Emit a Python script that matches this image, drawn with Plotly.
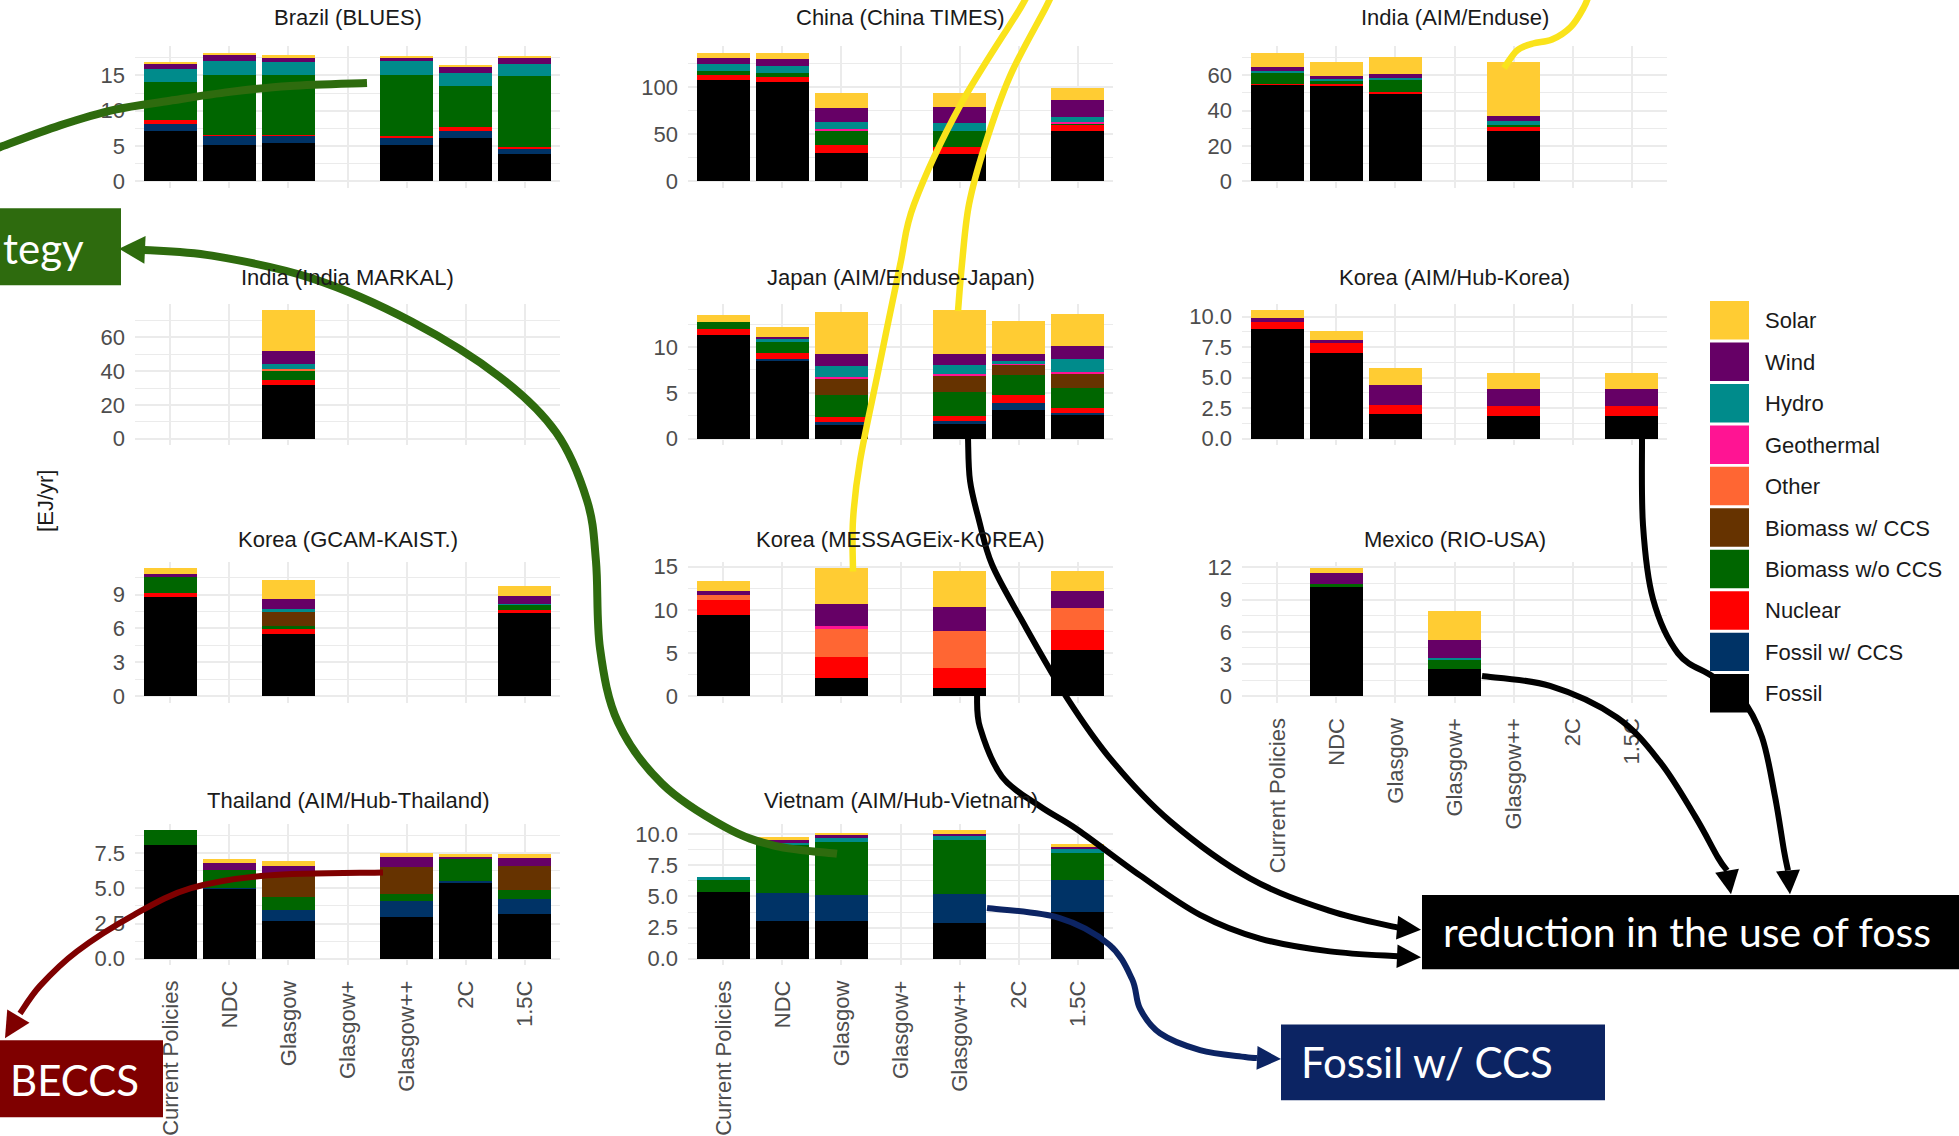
import plotly.graph_objects as go

W, H = 1959, 1136

SCENARIOS = ["Current Policies", "NDC", "Glasgow", "Glasgow+", "Glasgow++", "2C", "1.5C"]

# stacking order, bottom to top
SOURCES = ["Fossil", "Fossil w/ CCS", "Nuclear", "Biomass w/o CCS", "Biomass w/ CCS",
           "Other", "Geothermal", "Hydro", "Wind", "Solar"]
COLORS = ["#000000", "#003366", "#FF0000", "#006600", "#663300",
          "#FF6633", "#FF1493", "#008B8B", "#660066", "#FFCC33"]

N = None  # scenario not reported by the model

# Electricity generation by source [EJ/yr], one list per source, scenarios in SCENARIOS order
BRAZIL = {
    "Fossil":          [7.1, 5.1, 5.35, N, 5.1, 6.15, 3.8],
    "Fossil w/ CCS":   [1.0, 1.25, 1.0, N, 1.0, 1.0, 0.8],
    "Nuclear":         [0.55, 0.25, 0.25, N, 0.25, 0.5, 0.3],
    "Biomass w/o CCS": [5.4, 8.5, 8.5, N, 8.7, 5.8, 10.0],
    "Hydro":           [1.8, 2.0, 1.8, N, 2.0, 1.9, 1.75],
    "Wind":            [0.8, 0.85, 0.55, N, 0.45, 0.9, 0.8],
    "Solar":           [0.2, 0.25, 0.45, N, 0.25, 0.3, 0.25],
}
CHINA = {
    "Fossil":          [107, 105, 30.3, N, 28.6, N, 53],
    "Nuclear":         [6, 6, 8, N, 7.6, N, 6.2],
    "Biomass w/o CCS": [3.8, 3.5, 14.7, N, 16.8, N, 1.8],
    "Geothermal":      [0, 0, 2.5, N, 0.8, N, 1.7],
    "Hydro":           [7.7, 8, 7, N, 7.6, N, 5.9],
    "Wind":            [6, 7.7, 15.7, N, 17.0, N, 17.4],
    "Solar":           [5.8, 6, 15.3, N, 15.3, N, 13.3],
}
INDIA_AIM = {
    "Fossil":          [54.4, 54.2, 49.2, N, 28.3, N, N],
    "Nuclear":         [0.9, 1.1, 1.1, N, 2.4, N, N],
    "Biomass w/o CCS": [6.2, 1.3, 6.9, N, 1.3, N, N],
    "Hydro":           [0.7, 1.5, 1.3, N, 1.9, N, N],
    "Wind":            [2.3, 1.3, 2.1, N, 2.8, N, N],
    "Solar":           [8.2, 8.0, 10.0, N, 30.7, N, N],
}
INDIA_MARKAL = {
    "Fossil":          [N, N, 31.9, N, N, N, N],
    "Nuclear":         [N, N, 2.9, N, N, N, N],
    "Biomass w/o CCS": [N, N, 5.3, N, N, N, N],
    "Other":           [N, N, 0.9, N, N, N, N],
    "Hydro":           [N, N, 3.5, N, N, N, N],
    "Wind":            [N, N, 7.4, N, N, N, N],
    "Solar":           [N, N, 24.0, N, N, N, N],
}
JAPAN = {
    "Fossil":          [11.35, 8.5, 1.55, N, 1.7, 3.15, 2.6],
    "Fossil w/ CCS":   [0, 0.15, 0.25, N, 0.2, 0.8, 0.2],
    "Nuclear":         [0.6, 0.75, 0.55, N, 0.6, 0.8, 0.55],
    "Biomass w/o CCS": [0.8, 1.2, 2.4, N, 2.55, 2.15, 2.15],
    "Biomass w/ CCS":  [0, 0, 1.8, N, 1.8, 1.2, 1.6],
    "Geothermal":      [0, 0, 0.2, N, 0.2, 0.1, 0.2],
    "Hydro":           [0, 0.3, 1.2, N, 1.0, 0.3, 1.4],
    "Wind":            [0, 0.15, 1.35, N, 1.15, 0.8, 1.45],
    "Solar":           [0.8, 1.15, 4.55, N, 4.8, 3.55, 3.5],
}
KOREA_AIM = {
    "Fossil":          [8.95, 7.0, 2.05, N, 1.85, N, 1.85],
    "Nuclear":         [0.6, 0.8, 0.75, N, 0.8, N, 0.8],
    "Wind":            [0.3, 0.3, 1.6, N, 1.45, N, 1.45],
    "Solar":           [0.65, 0.7, 1.35, N, 1.3, N, 1.3],
}
KOREA_GCAM = {
    "Fossil":          [8.75, N, 5.55, N, N, N, 7.35],
    "Nuclear":         [0.35, N, 0.5, N, N, N, 0.3],
    "Biomass w/o CCS": [1.45, N, 0.15, N, N, N, 0.5],
    "Biomass w/ CCS":  [0, N, 1.3, N, N, N, 0],
    "Hydro":           [0, N, 0.2, N, N, N, 0.05],
    "Wind":            [0.3, N, 0.95, N, N, N, 0.65],
    "Solar":           [0.5, N, 1.6, N, N, N, 0.9],
}
KOREA_MESSAGE = {
    "Fossil":          [9.4, N, 2.1, N, 1.0, N, 5.4],
    "Nuclear":         [1.7, N, 2.5, N, 2.3, N, 2.3],
    "Other":           [0.6, N, 3.35, N, 4.2, N, 2.55],
    "Geothermal":      [0, N, 0.2, N, 0, N, 0],
    "Wind":            [0.45, N, 2.55, N, 2.8, N, 1.9],
    "Solar":           [1.25, N, 4.15, N, 4.15, N, 2.3],
}
MEXICO = {
    "Fossil":          [N, 10.3, N, 2.5, N, N, N],
    "Biomass w/o CCS": [N, 0.15, N, 0.95, N, N, N],
    "Hydro":           [N, 0, N, 0.12, N, N, N],
    "Wind":            [N, 1.0, N, 1.65, N, N, N],
    "Solar":           [N, 0.5, N, 2.7, N, N, N],
}
THAILAND = {
    "Fossil":          [8.1, 4.95, 2.7, N, 2.95, 5.4, 3.2],
    "Fossil w/ CCS":   [0, 0.1, 0.75, N, 1.15, 0.1, 1.05],
    "Biomass w/o CCS": [1.0, 1.25, 0.95, N, 0.5, 1.55, 0.65],
    "Biomass w/ CCS":  [0, 0, 1.5, N, 1.9, 0, 1.65],
    "Wind":            [0, 0.5, 0.65, N, 0.75, 0.15, 0.6],
    "Solar":           [0, 0.25, 0.4, N, 0.25, 0.25, 0.3],
}
VIETNAM = {
    "Fossil":          [5.35, 3.0, 3.0, N, 2.9, N, 3.75],
    "Fossil w/ CCS":   [0, 2.3, 2.15, N, 2.3, N, 2.6],
    "Biomass w/o CCS": [1.0, 3.8, 4.2, N, 4.35, N, 2.15],
    "Hydro":           [0.2, 0.25, 0.35, N, 0.35, N, 0.3],
    "Wind":            [0, 0.15, 0.2, N, 0.15, N, 0.2],
    "Solar":           [0, 0.25, 0.2, N, 0.25, N, 0.25],
}

# facet layout: title, data, grid column/row, y tick step, tick format, x labels shown
PANELS = [
    dict(title="Brazil (BLUES)", data=BRAZIL, col=0, row=0, dtick=5, fmt="", xlab=False),
    dict(title="China (China TIMES)", data=CHINA, col=1, row=0, dtick=50, fmt="", xlab=False),
    dict(title="India (AIM/Enduse)", data=INDIA_AIM, col=2, row=0, dtick=20, fmt="", xlab=False),
    dict(title="India (India MARKAL)", data=INDIA_MARKAL, col=0, row=1, dtick=20, fmt="", xlab=False),
    dict(title="Japan (AIM/Enduse-Japan)", data=JAPAN, col=1, row=1, dtick=5, fmt="", xlab=False),
    dict(title="Korea (AIM/Hub-Korea)", data=KOREA_AIM, col=2, row=1, dtick=2.5, fmt=".1f", xlab=False),
    dict(title="Korea (GCAM-KAIST.)", data=KOREA_GCAM, col=0, row=2, dtick=3, fmt="", xlab=False),
    dict(title="Korea (MESSAGEix-KOREA)", data=KOREA_MESSAGE, col=1, row=2, dtick=5, fmt="", xlab=False),
    dict(title="Mexico (RIO-USA)", data=MEXICO, col=2, row=2, dtick=3, fmt="", xlab=True),
    dict(title="Thailand (AIM/Hub-Thailand)", data=THAILAND, col=0, row=3, dtick=2.5, fmt=".1f", xlab=True),
    dict(title="Vietnam (AIM/Hub-Vietnam)", data=VIETNAM, col=1, row=3, dtick=2.5, fmt=".1f", xlab=True),
]

COL_X = [(135, 560), (688, 1113), (1242, 1667)]
ROW_Y = [(40, 183), (301, 444), (562, 705), (828, 971)]
TITLE_GAP = [29, 27, 22.5, 24]

GRID = "#EBEBEB"
BASE_FONT = "Liberation Sans, Arial, sans-serif"
NOTE_FONT = "Lato, Open Sans, sans-serif"


def X(px):
    return px / W


def Y(py):
    return 1 - py / H


fig = go.Figure()
axes = {}
annotations = []
shapes = []

for k, p in enumerate(PANELS, start=1):
    xa = "x" if k == 1 else f"x{k}"
    ya = "y" if k == 1 else f"y{k}"
    data = p["data"]
    for src, color in zip(SOURCES, COLORS):
        if src not in data:
            continue
        fig.add_trace(go.Bar(
            x=SCENARIOS, y=data[src], name=src, width=0.9,
            marker=dict(color=color, line=dict(width=0)),
            xaxis=xa, yaxis=ya, showlegend=False,
        ))
    totals = [sum(v[i] for v in data.values() if v[i] is not None)
              for i in range(len(SCENARIOS))]
    top = max(totals)
    x0, x1 = COL_X[p["col"]]
    y0, y1 = ROW_Y[p["row"]]
    tickfont = dict(family=BASE_FONT, size=22, color="#4D4D4D")
    axes["xaxis" + ("" if k == 1 else str(k))] = dict(
        domain=[X(x0), X(x1)], anchor=ya, type="category",
        categoryorder="array", categoryarray=SCENARIOS, range=[-0.6, 6.6],
        showgrid=True, gridcolor=GRID, gridwidth=1.8, zeroline=False, showline=False,
        ticks="", showticklabels=p["xlab"], tickangle=-90, tickfont=tickfont,
        ticklabelstandoff=10, fixedrange=True,
    )
    axes["yaxis" + ("" if k == 1 else str(k))] = dict(
        domain=[Y(y1), Y(y0)], anchor=xa, range=[-0.05 * top, 1.05 * top],
        tickmode="linear", tick0=0, dtick=p["dtick"], tickformat=p["fmt"],
        showgrid=True, gridcolor=GRID, gridwidth=1.8, zeroline=False, showline=False,
        ticks="", tickfont=tickfont, ticklabelstandoff=9, fixedrange=True,
        minor=dict(tickmode="linear", tick0=0, dtick=p["dtick"] / 2, showgrid=True,
                   gridcolor=GRID, gridwidth=0.9, ticks=""),
    )
    annotations.append(dict(
        text=p["title"], x=X((x0 + x1) / 2), y=Y(y0 - TITLE_GAP[p["row"]]),
        xref="paper", yref="paper",
        showarrow=False, xanchor="center", yanchor="middle",
        font=dict(family=BASE_FONT, size=22, color="#1A1A1A"),
    ))

# shared y-axis title
annotations.append(dict(
    text="[EJ/yr]", x=X(31), y=Y(501), xref="paper", yref="paper", showarrow=False,
    textangle=-90, font=dict(family=BASE_FONT, size=22, color="#1A1A1A"),
))

# legend: Solar on top down to Fossil
LEG_X0, LEG_X1, LEG_TOP, LEG_STEP = 1710, 1749, 298, 42
for i, (src, color) in enumerate(reversed(list(zip(SOURCES, COLORS)))):
    t = LEG_TOP + i * LEG_STEP
    shapes.append(dict(type="rect", xref="paper", yref="paper",
                       x0=X(LEG_X0), x1=X(LEG_X1), y0=Y(t + LEG_STEP - 3), y1=Y(t),
                       fillcolor=color, line=dict(width=0), layer="above"))
    annotations.append(dict(
        text=src, x=X(1763), y=Y(t + LEG_STEP / 2 - 1), xref="paper", yref="paper",
        showarrow=False, xanchor="left", yanchor="middle",
        font=dict(family=BASE_FONT, size=22, color="#1A1A1A"),
    ))


def smooth_path(pts):
    d = f"M {X(pts[0][0]):.5f},{Y(pts[0][1]):.5f}"
    n = len(pts)
    for i in range(n - 1):
        p0 = pts[i - 1] if i > 0 else pts[i]
        p1, p2 = pts[i], pts[i + 1]
        p3 = pts[i + 2] if i + 2 < n else p2
        c1 = (p1[0] + (p2[0] - p0[0]) / 6, p1[1] + (p2[1] - p0[1]) / 6)
        c2 = (p2[0] - (p3[0] - p1[0]) / 6, p2[1] - (p3[1] - p1[1]) / 6)
        d += (f" C {X(c1[0]):.5f},{Y(c1[1]):.5f} {X(c2[0]):.5f},{Y(c2[1]):.5f}"
              f" {X(p2[0]):.5f},{Y(p2[1]):.5f}")
    return d


def curve(pts, color, width):
    shapes.append(dict(type="path", xref="paper", yref="paper", path=smooth_path(pts),
                       line=dict(color=color, width=width), layer="above"))


def head(tip, frm, color, length=24, half=12):
    dx, dy = tip[0] - frm[0], tip[1] - frm[1]
    norm = (dx * dx + dy * dy) ** 0.5
    ux, uy = dx / norm, dy / norm
    bx, by = tip[0] - ux * length, tip[1] - uy * length
    lx, ly = bx - uy * half, by + ux * half
    rx, ry = bx + uy * half, by - ux * half
    path = (f"M {X(tip[0]):.5f},{Y(tip[1]):.5f} L {X(lx):.5f},{Y(ly):.5f} "
            f"L {X(rx):.5f},{Y(ry):.5f} Z")
    shapes.append(dict(type="path", xref="paper", yref="paper", path=path,
                       fillcolor=color, line=dict(width=0), layer="above"))


def box(x0, y0, x1, y1, color):
    shapes.append(dict(type="rect", xref="paper", yref="paper",
                       x0=X(x0), x1=X(x1), y0=Y(y1), y1=Y(y0),
                       fillcolor=color, line=dict(width=0), layer="above"))


def label(text, x, y, anchor, size=42):
    annotations.append(dict(
        text=text, x=X(x), y=Y(y), xref="paper", yref="paper", showarrow=False,
        xanchor=anchor, yanchor="middle",
        font=dict(family=NOTE_FONT, size=size, color="#FFFFFF"),
    ))


GREEN = "#2E6B0E"
YELLOW = "#FAE31B"
BLACK = "#000000"
NAVY = "#0C2463"
MAROON = "#7F0000"

# callout boxes
box(-10, 204, 121, 282, GREEN)
label("tegy", 1, 244, "left")
box(-10, 1047, 163, 1125, MAROON)
label("BECCS", 74, 1087, "center")
box(1281, 1031, 1605, 1108, NAVY)
label("Fossil w/ CCS", 1299, 1069, "left")
box(1422, 900, 1975, 975, BLACK)
label("reduction in the use of foss", 1441, 937, "left", 41)

# biomass callouts
curve([(367, 77), (290, 80), (230, 86), (170, 95), (115, 104), (60, 120), (0, 142), (-12, 147)],
      GREEN, 8)
g2 = [(837, 858), (775, 850), (725, 831), (662, 787), (618, 725), (600, 650), (596, 562),
      (587, 500), (556, 431), (500, 375), (412, 319), (312, 275), (212, 252), (142, 246)]
curve(g2, GREEN, 8)
head((119, 245), g2[-1], GREEN, 26, 14)

# solar callouts
curve([(853, 572), (853, 520), (860, 460), (878, 370), (900, 262), (914, 200), (960, 100),
       (1021, 0), (1030, -20)], YELLOW, 6.5)
curve([(958, 308), (962, 260), (969, 200), (985, 140), (1010, 70), (1046, 0), (1055, -20)],
      YELLOW, 6.5)
curve([(1504, 62), (1517, 44), (1533, 37), (1552, 33), (1571, 20), (1584, 0), (1590, -15)],
      YELLOW, 6.5)

# fossil reduction callouts
ba = [(968, 437), (970, 480), (979, 520), (992, 565), (1021, 620), (1067, 700), (1113, 765),
      (1170, 825), (1250, 883), (1330, 916), (1398, 933)]
curve(ba, BLACK, 6)
head((1421, 935), ba[-1], BLACK, 24, 12)
bb = [(977, 697), (980, 730), (1002, 780), (1040, 810), (1078, 834), (1140, 880),
      (1200, 920), (1260, 944), (1330, 957), (1398, 962)]
curve(bb, BLACK, 6)
head((1421, 963), bb[-1], BLACK, 24, 12)
bc = [(1482, 678), (1550, 688), (1617, 720), (1660, 765), (1695, 820), (1718, 862),
      (1727, 875)]
curve(bc, BLACK, 6)
head((1731, 899), bc[-1], BLACK, 24, 12)
bd = [(1642, 437), (1643, 525), (1653, 600), (1678, 655), (1712, 678), (1741, 700),
      (1762, 740), (1775, 800), (1784, 855), (1788, 875)]
curve(bd, BLACK, 6)
head((1790, 899), bd[-1], BLACK, 24, 12)

# CCS callouts
nv = [(987, 913), (1059, 923), (1109, 950), (1132, 985), (1140, 1015), (1160, 1040),
      (1200, 1057), (1245, 1064), (1257, 1065)]
curve(nv, NAVY, 6)
head((1281, 1066), nv[-1], NAVY, 24, 12)
rd = [(383, 877), (268, 880), (191, 893), (134, 920), (77, 957), (40, 992), (20, 1020)]
curve(rd, MAROON, 6)
head((5, 1045), rd[-1], MAROON, 26, 13)

fig.update_layout(
    width=W, height=H, margin=dict(l=0, r=0, t=0, b=0),
    paper_bgcolor="white", plot_bgcolor="white",
    barmode="stack", bargap=0.1, showlegend=False,
    font=dict(family=BASE_FONT, size=22, color="#4D4D4D"),
    annotations=annotations, shapes=shapes, **axes,
)

fig.write_html("out.html")
